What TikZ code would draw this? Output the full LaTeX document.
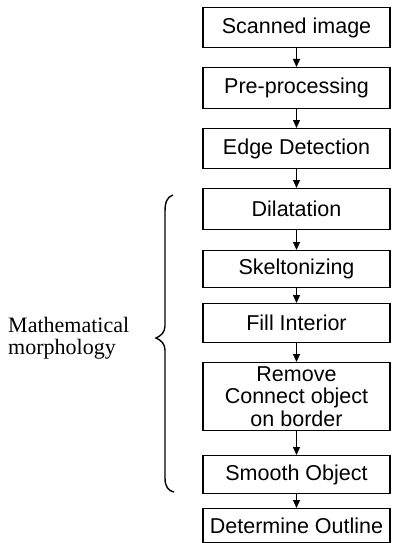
\documentclass[tikz,border=0pt]{standalone}
\usepackage{fontspec}
\setmainfont{Liberation Serif}
\setsansfont{Liberation Sans}
\usetikzlibrary{arrows.meta}
\begin{document}
\begin{tikzpicture}[x=1pt,y=-1pt,
  stepbox/.style={draw, line width=1.3pt, minimum width=187pt, inner sep=0pt,
    anchor=north, align=center, font=\sffamily\fontsize{21.5}{22.5}\selectfont},
  flow/.style={-{Triangle[length=8pt,width=7pt]}, line width=1.2pt},
  bracestyle/.style={line width=1.4pt}]
\useasboundingbox (0,0) rectangle (392,543);
\node[stepbox, minimum height=40pt] (b1) at (296.5,7)   {Scanned image};
\node[stepbox, minimum height=41pt] (b2) at (296.5,67)  {Pre-processing};
\node[stepbox, minimum height=40pt] (b3) at (296.5,128) {Edge Detection};
\node[stepbox, minimum height=41pt] (b4) at (296.5,188) {Dilatation};
\node[stepbox, minimum height=37pt] (b5) at (296.5,250) {Skeltonizing};
\node[stepbox, minimum height=39pt] (b6) at (296.5,303) {Fill Interior};
\node[stepbox, minimum height=68pt] (b7) at (296.5,362) {Remove\\Connect object\\on border};
\node[stepbox, minimum height=38pt] (b8) at (296.5,455) {Smooth Object};
\node[stepbox, minimum height=34pt] (b9) at (296.5,508) {Determine Outline};
\foreach \a/\b in {b1/b2,b2/b3,b3/b4,b4/b5,b5/b6,b6/b7,b7/b8,b8/b9}
  \draw[flow] (\a) -- (\b);
\node[anchor=west, align=left, inner sep=0pt, font=\rmfamily\fontsize{22}{22.5}\selectfont] (mm) at (8,338) {Mathematical\\morphology};
\draw[bracestyle] (173,195) .. controls (167,197) and (165,202) .. (165,212)
  -- (165,326) .. controls (165,332) and (161,336) .. (156,338)
  .. controls (161,340) and (165,344) .. (165,350)
  -- (165,478) .. controls (165,486) and (168,491) .. (174,492);
\end{tikzpicture}
\end{document}
